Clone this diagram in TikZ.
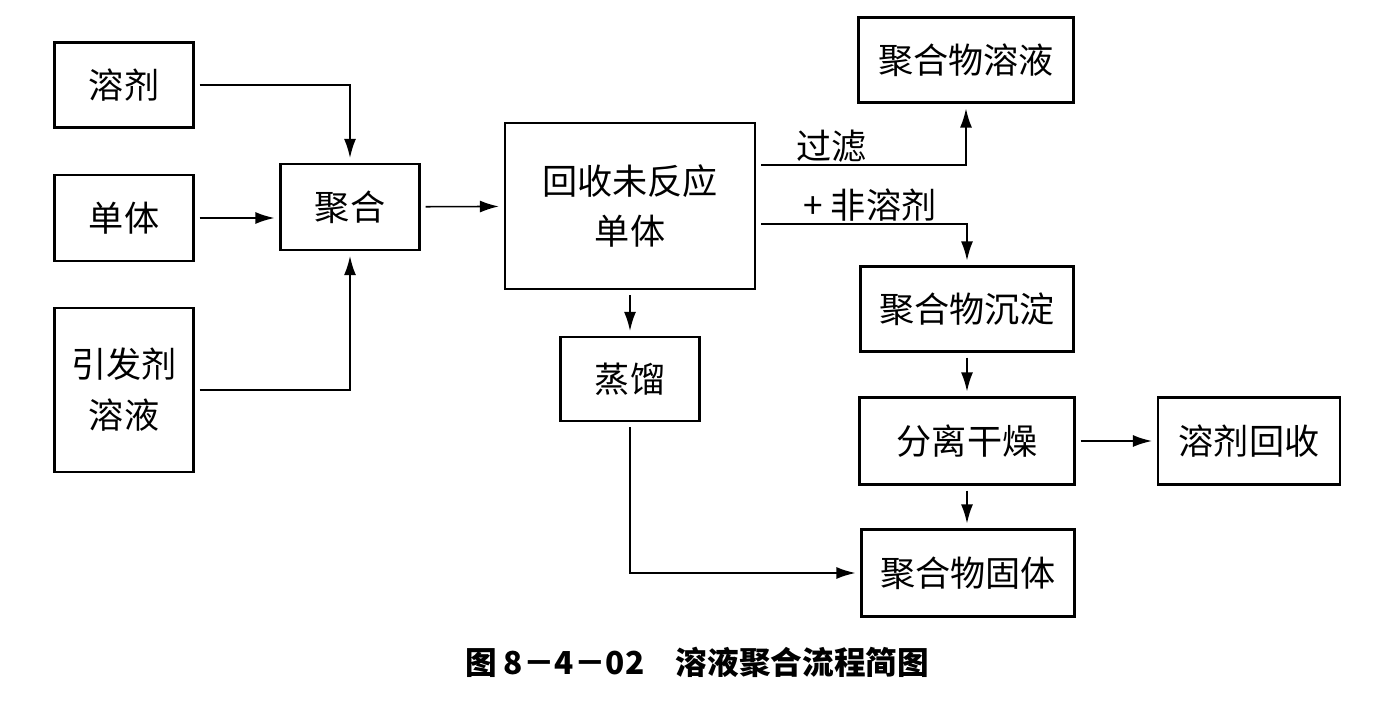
\documentclass[tikz,border=0pt]{standalone}
\usepackage{fontspec}
\setmainfont{Noto Sans CJK SC}
\usetikzlibrary{arrows.meta, positioning, calc}
\tikzset{
    box/.style={draw, line width=1.3pt, align=center, inner sep=0pt,
      font=\fontsize{20}{29}\selectfont},
    flow/.style={-{Latex[length=0.38cm, width=0.24cm]}, line width=0.9pt,
      shorten <=0.1cm, shorten >=0.1cm},
    lbl/.style={above, inner sep=1pt, font=\fontsize{20}{24}\selectfont},
}

\begin{document}
\begin{tikzpicture}[x=0.02cm, y=-0.02cm]
    \useasboundingbox (0,0) rectangle (1384,719);

    \node[box, minimum width=2.78cm, minimum height=1.7cm] (sol) at (124,85) {溶剂};
    \node[box, minimum width=2.78cm, minimum height=1.72cm] (mono) at (124,218) {单体};
    \node[box, minimum width=2.78cm, minimum height=3.28cm] (init) at (124,390) {引发剂\\溶液};
    \node[box, minimum width=2.78cm, minimum height=1.72cm] (poly) at (350,207) {聚合};
    \node[box, minimum width=5cm, minimum height=3.32cm] (rec) at (630,206) {回收未反应\\单体};
    \node[box, minimum width=2.78cm, minimum height=1.68cm] (dist) at (630,379) {蒸馏};
    \node[box, minimum width=4.3cm, minimum height=1.7cm] (psol) at (966,60) {聚合物溶液};
    \node[box, minimum width=4.26cm, minimum height=1.7cm] (prec) at (967,309) {聚合物沉淀};
    \node[box, minimum width=4.3cm, minimum height=1.74cm] (sep) at (967,441) {分离干燥};
    \node[box, minimum width=3.64cm, minimum height=1.74cm] (srec) at (1249,441) {溶剂回收};
    \node[box, minimum width=4.26cm, minimum height=1.74cm] (solid) at (968,573) {聚合物固体};

    \draw[flow] (sol) -| (poly);
    \draw[flow] (mono) -- (mono -| poly.west);
    \draw[flow] (init) -| (poly);
    \draw[flow] (poly) -- (rec);
    \draw[flow] ([yshift=0.82cm]rec.east) -| node[lbl, pos=0.18]{过滤} (psol);
    \draw[flow] ([yshift=-0.36cm]rec.east) -| node[lbl, pos=0.27]{+ 非溶剂} (prec);
    \draw[flow] (rec) -- (dist);
    \draw[flow] (dist) |- (solid);
    \draw[flow] (prec) -- (prec |- sep.north);
    \draw[flow] (sep) -- (srec);
    \draw[flow] (sep.south) -- (sep.south |- solid.north);

    \node[font=\fontsize{18}{22}\selectfont\bfseries] (cap) at (697,662) {图 8－4－02\quad 溶液聚合流程简图};
\end{tikzpicture}
\end{document}
